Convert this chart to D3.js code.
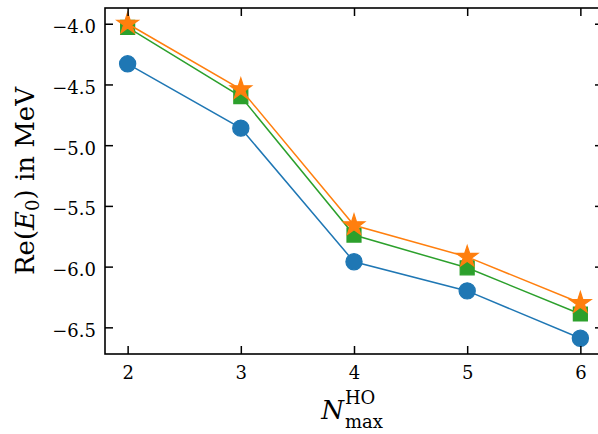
<!DOCTYPE html>
<html>
<head>
<meta charset="utf-8">
<script src="https://cdn.jsdelivr.net/npm/d3@7"></script>
<style>
  body { margin: 0; background: #fff; }
  svg { display: block; }
  text { font-family: "DejaVu Serif", serif; fill: #000; }
</style>
</head>
<body>
<div id="chart"></div>
<script>
// values
const nmax = [2, 3, 4, 5, 6];
const blueVals = [-4.33, -4.86, -5.96, -6.20, -6.59];
const greenVals = [-4.03, -4.60, -5.74, -6.01, -6.39];
const orangeVals = [-4.00, -4.54, -5.66, -5.92, -6.30];
const yTicks = [-6.5, -6.0, -5.5, -5.0, -4.5, -4.0];

const W = 598, H = 434;
let margin = {top: 8, left: 105, right: 603, bottom: 354}; // right spine falls off the canvas

let svg = d3.select("#chart").append("svg")
    .attr("width", W).attr("height", H);

let series = [
    {name: "blue", vals: blueVals, color: "#1f77b4", shape: "circle"},
    {name: "green", vals: greenVals, color: "#2ca02c", shape: "square"},
    {name: "orange", vals: orangeVals, color: "#ff7f0e", shape: "star"}
];

// matplotlib-style 5% margins
let xExt = d3.extent(nmax), xPad = (xExt[1] - xExt[0]) * 0.05;
let allY = blueVals.concat(greenVals, orangeVals);
let yExt = d3.extent(allY), yPad = (yExt[1] - yExt[0]) * 0.05;

let x = d3.scaleLinear().domain([xExt[0] - xPad, xExt[1] + xPad]).range([margin.left, margin.right]);
let y = d3.scaleLinear().domain([yExt[0] - yPad, yExt[1] + yPad]).range([margin.bottom, margin.top]);

// lines + markers, one series at a time so orange ends up on top
let line = d3.line().x(function(d){ return x(d.n) }).y(function(d){ return y(d.v) });
let symbolFor = {
    circle: d3.symbol().type(d3.symbolCircle).size(Math.PI * 8.1 * 8.1),
    square: d3.symbol().type(d3.symbolSquare).size(14 * 14),
    star: d3.symbol().type(d3.symbolStar).size(11.3 * 11.3 / 0.8908130915292852)
};

series.forEach(function(s){
    let pts = nmax.map(function(n, i){ return {n: n, v: s.vals[i]} });
    let g = svg.append("g").attr("class", s.name);
    g.append("path")
        .attr("d", line(pts))
        .attr("fill", "none")
        .attr("stroke", s.color)
        .attr("stroke-width", 1.5);
    g.selectAll("path.mk")
        .data(pts)
        .enter()
        .append("path")
        .attr("class", "mk")
        .attr("d", symbolFor[s.shape])
        .attr("transform", function(d){ return "translate(" + x(d.n) + "," + y(d.v) + ")" })
        .attr("fill", s.color)
        .attr("stroke", s.color)
        .attr("stroke-width", 1.2);
});

// axes, ticks pointing inward on all sides
let fmt = d3.format(".1f");
let xAxis = svg.append("g")
    .attr("transform", "translate(0," + margin.bottom + ")")
    .call(d3.axisBottom(x).tickValues(nmax).tickFormat(d3.format("d")).tickSizeInner(-8).tickSizeOuter(0).tickPadding(12));
let yAxis = svg.append("g")
    .attr("transform", "translate(" + margin.left + ",0)")
    .call(d3.axisLeft(y).tickValues(yTicks).tickFormat(fmt).tickSizeInner(-8).tickSizeOuter(0).tickPadding(9));
let topAxis = svg.append("g")
    .attr("transform", "translate(0," + margin.top + ")")
    .call(d3.axisTop(x).tickValues(nmax).tickFormat("").tickSizeInner(-8).tickSizeOuter(0));
let rightAxis = svg.append("g")
    .attr("transform", "translate(" + margin.right + ",0)")
    .call(d3.axisRight(y).tickValues(yTicks).tickFormat("").tickSizeInner(-8).tickSizeOuter(0));

[xAxis, yAxis, topAxis, rightAxis].forEach(function(a){
    a.select(".domain").remove();
    a.selectAll("line").attr("stroke", "#000").attr("stroke-width", 1.5);
    a.selectAll("text").attr("font-family", "DejaVu Serif").attr("font-size", 18).attr("fill", "#000");
});
yAxis.selectAll("text").attr("dy", "0.5em");

// frame
svg.append("rect")
    .attr("x", margin.left).attr("y", margin.top)
    .attr("width", margin.right - margin.left).attr("height", margin.bottom - margin.top)
    .attr("fill", "none").attr("stroke", "#000").attr("stroke-width", 1.6);

// y label: Re(E_0) in MeV
let yl = svg.append("text")
    .attr("transform", "translate(34," + ((margin.top + margin.bottom) / 2) + ") rotate(-90)")
    .attr("text-anchor", "middle")
    .attr("font-size", 26);
yl.append("tspan").text("Re(");
yl.append("tspan").attr("font-style", "italic").text("E");
yl.append("tspan").attr("font-size", 18).attr("dy", 5).text("0");
yl.append("tspan").attr("dy", -5).text(") in MeV");

// x label: N^HO_max
let xl = svg.append("g");
let nText = xl.append("text").attr("x", 0).attr("y", 0).attr("font-size", 26).attr("font-style", "italic").text("N");
let nW = nText.node().getComputedTextLength();
let supT = xl.append("text").attr("x", nW + 1).attr("y", -15).attr("font-size", 18).text("HO");
let subT = xl.append("text").attr("x", nW + 1).attr("y", 9).attr("font-size", 18).text("max");
let totW = nW + 1 + Math.max(supT.node().getComputedTextLength(), subT.node().getComputedTextLength());
let cx = (margin.left + margin.right) / 2 - 2;
xl.attr("transform", "translate(" + (cx - totW / 2) + ",419)");
</script>
</body>
</html>
